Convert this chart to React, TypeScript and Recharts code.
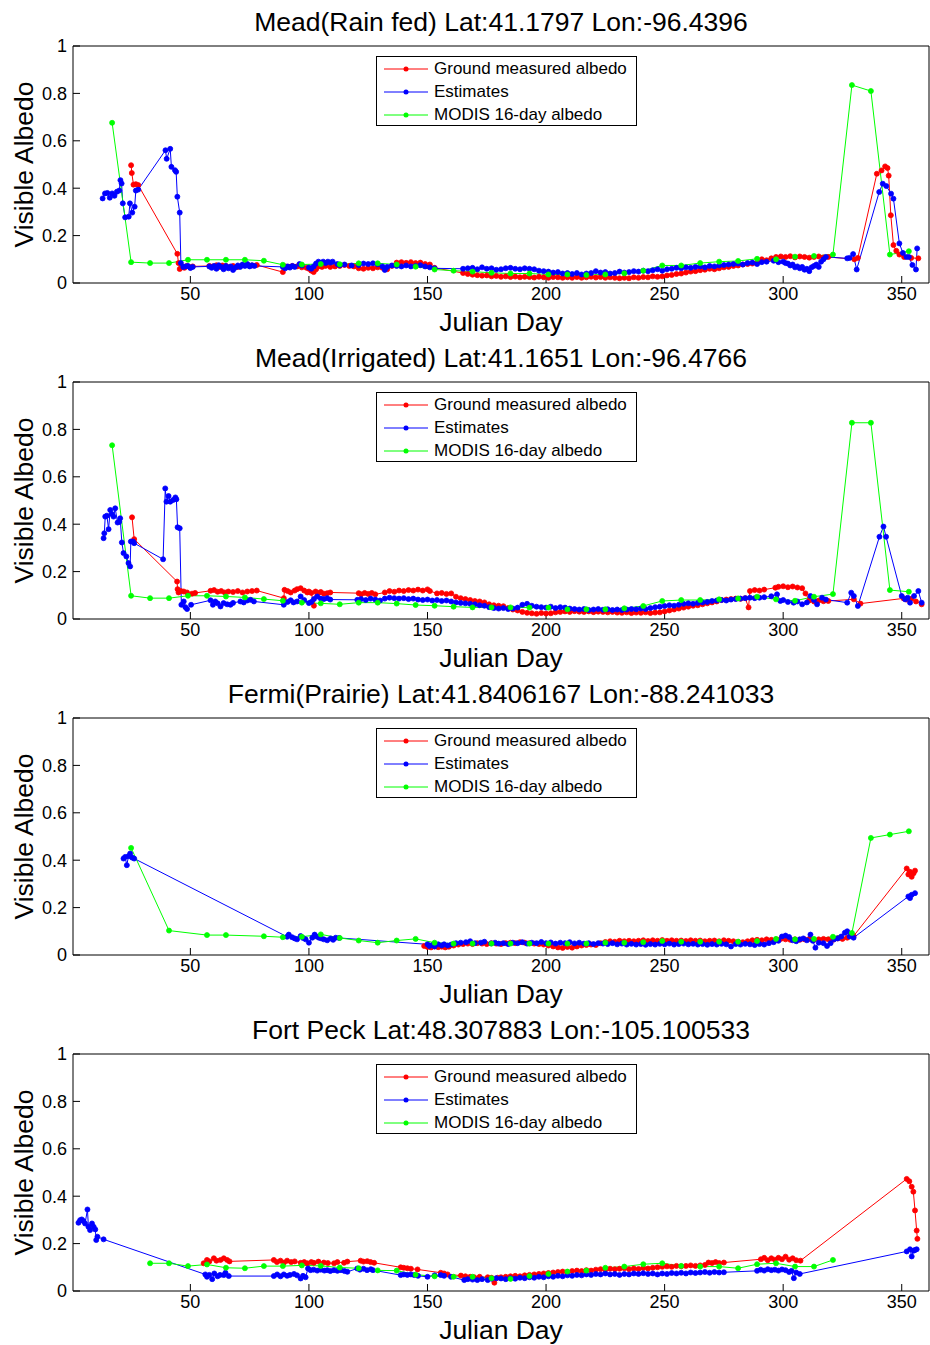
import React from 'react';
import { LineChart, Line, XAxis, YAxis, Legend } from 'recharts';

type Pt = [number, number];

const FONT = '"Liberation Sans", Arial, Helvetica, sans-serif';
const RED = '#ff0000';
const BLUE = '#0000ff';
const GREEN = '#00ff00';

const TITLES = [
  'Mead(Rain fed) Lat:41.1797 Lon:-96.4396',
  'Mead(Irrigated) Lat:41.1651 Lon:-96.4766',
  'Fermi(Prairie) Lat:41.8406167 Lon:-88.241033',
  'Fort Peck Lat:48.307883 Lon:-105.100533',
];
const X_TICKS = [50, 100, 150, 200, 250, 300, 350];
const Y_TICKS = [0, 0.2, 0.4, 0.6, 0.8, 1];
const X_LABEL = 'Julian Day';
const Y_LABEL = 'Visible Albedo';
const LEGEND_LABELS = ['Ground measured albedo', 'Estimates', 'MODIS 16-day albedo'];

// ---------------- Panel 1: Mead (Rain fed) ----------------
const p1Ground: Pt[] = [[25,0.497],[25.3,0.464],[26,0.415],[27,0.417],[28,0.413],[44.5,0.123],[45,0.084],[45.5,0.059],[46.5,0.07],[47.5,0.064],[48.5,0.072],[50,0.066],[51,0.07],[58,0.072],[59.5,0.07],[61,0.075],[62,0.068],[63.5,0.074],[65,0.072],[66.5,0.066],[68,0.072],[70,0.068],[72,0.075],[74,0.078],[76,0.074],[78,0.076],[89,0.046],[90,0.07],[91.5,0.068],[93,0.072],[95,0.07],[97,0.066],[99,0.064],[100,0.06],[101,0.052],[102,0.046],[103,0.058],[104,0.07],[105.5,0.068],[107,0.072],[109,0.068],[111,0.07],[113,0.072],[115,0.076],[117,0.072],[119,0.07],[121,0.062],[123,0.06],[125,0.064],[127,0.062],[129,0.066],[131,0.064],[133,0.058],[135,0.072],[137,0.086],[139,0.088],[141,0.085],[143,0.088],[145,0.084],[147,0.086],[149,0.08],[150,0.072],[151,0.078],[153,0.064],[165,0.042],[167,0.038],[169,0.035],[171,0.033],[173,0.031],[175,0.032],[177,0.028],[179,0.03],[181,0.026],[183,0.028],[185,0.025],[187,0.027],[189,0.024],[191,0.026],[193,0.025],[195,0.023],[197,0.026],[199,0.024],[201,0.022],[203,0.025],[205,0.024],[207,0.022],[209,0.024],[211,0.022],[213,0.025],[215,0.022],[217,0.024],[219,0.026],[221,0.023],[223,0.025],[225,0.022],[227,0.024],[229,0.022],[231,0.02],[233,0.022],[235,0.02],[237,0.024],[239,0.022],[241,0.025],[243,0.024],[245,0.028],[247,0.026],[249,0.028],[251,0.032],[253,0.034],[255,0.038],[257,0.04],[259,0.044],[261,0.048],[263,0.05],[265,0.054],[267,0.056],[269,0.06],[271,0.058],[273,0.062],[275,0.066],[277,0.068],[279,0.072],[281,0.074],[283,0.078],[285,0.08],[287,0.082],[289,0.086],[291,0.1],[293,0.096],[295,0.104],[297,0.11],[299,0.112],[301,0.11],[303,0.113],[305,0.108],[307,0.112],[309,0.11],[311,0.107],[313,0.11],[315,0.112],[317,0.108],[319,0.11],[330,0.1],[331.5,0.106],[339.5,0.461],[341.5,0.475],[343,0.492],[344,0.485],[344.5,0.453],[345.4,0.286],[346.5,0.16],[347.7,0.136],[349,0.12],[351,0.11],[354,0.106],[357,0.104]];

const p1Est: Pt[] = [[13,0.357],[14,0.378],[15,0.38],[16,0.36],[17,0.378],[18,0.368],[19,0.385],[20,0.39],[20.5,0.434],[21,0.42],[21.5,0.336],[22.5,0.277],[24,0.28],[24.5,0.336],[25.5,0.297],[26.5,0.322],[27,0.39],[28,0.394],[39.5,0.56],[40,0.524],[41.5,0.566],[42,0.49],[43.5,0.476],[44,0.469],[44.5,0.364],[45.5,0.297],[46,0.084],[47,0.067],[48,0.07],[49,0.072],[50,0.063],[51,0.068],[58,0.07],[59,0.064],[60,0.072],[61,0.06],[62,0.075],[63,0.068],[64,0.058],[65,0.072],[66,0.062],[67,0.07],[68,0.055],[69,0.065],[70,0.074],[71,0.068],[72,0.078],[73,0.072],[74,0.08],[75,0.07],[76,0.075],[77,0.072],[89,0.068],[90,0.062],[91,0.07],[92,0.065],[93,0.072],[94,0.068],[96,0.08],[97,0.074],[100,0.065],[101,0.06],[102,0.07],[103,0.082],[104,0.09],[105,0.085],[106,0.09],[107,0.084],[108,0.09],[109,0.086],[110,0.09],[112,0.08],[113,0.075],[115,0.078],[118,0.074],[121,0.076],[123,0.082],[125,0.08],[127,0.083],[129,0.079],[131,0.07],[132,0.055],[133,0.068],[135,0.074],[137,0.072],[139,0.07],[141,0.074],[143,0.07],[145,0.072],[147,0.075],[149,0.07],[151,0.066],[153,0.062],[165,0.06],[167,0.062],[169,0.064],[171,0.058],[173,0.066],[175,0.06],[177,0.062],[179,0.056],[181,0.058],[183,0.062],[185,0.064],[187,0.06],[189,0.058],[191,0.062],[193,0.06],[195,0.058],[197,0.052],[199,0.05],[201,0.048],[203,0.044],[205,0.046],[207,0.04],[209,0.042],[211,0.038],[213,0.042],[215,0.036],[217,0.04],[219,0.042],[221,0.05],[223,0.044],[225,0.046],[227,0.04],[229,0.042],[231,0.048],[233,0.044],[235,0.046],[237,0.05],[239,0.048],[241,0.052],[243,0.05],[245,0.054],[247,0.058],[249,0.052],[251,0.058],[253,0.06],[255,0.064],[257,0.062],[259,0.066],[261,0.064],[263,0.068],[265,0.07],[267,0.066],[269,0.072],[271,0.07],[273,0.074],[275,0.076],[277,0.078],[279,0.08],[281,0.082],[283,0.078],[285,0.084],[287,0.086],[289,0.08],[291,0.088],[293,0.09],[296,0.094],[298,0.088],[300,0.09],[301,0.084],[302,0.082],[303,0.074],[304,0.078],[305,0.066],[306,0.07],[307,0.062],[308,0.068],[309,0.056],[310,0.06],[311,0.05],[312,0.066],[313,0.072],[314,0.078],[315,0.068],[316,0.09],[317,0.1],[318,0.11],[327,0.104],[328,0.106],[329.5,0.122],[331,0.057],[340.5,0.384],[342,0.419],[343.5,0.409],[345.5,0.377],[346.5,0.356],[349,0.167],[350.5,0.127],[352,0.11],[353,0.11],[354.5,0.076],[356,0.057],[356.5,0.146]];

const p1Modis: Pt[] = [[17,0.676],[25,0.088],[33,0.084],[41,0.084],[49,0.098],[57,0.098],[65,0.098],[73,0.098],[81,0.094],[89,0.077],[97,0.078],[105,0.08],[113,0.079],[121,0.083],[129,0.083],[137,0.078],[145,0.069],[153,0.057],[161,0.052],[169,0.048],[177,0.043],[185,0.04],[193,0.04],[201,0.036],[209,0.036],[217,0.034],[225,0.036],[233,0.041],[241,0.052],[249,0.074],[257,0.074],[265,0.084],[273,0.09],[281,0.093],[289,0.102],[297,0.1],[305,0.111],[313,0.114],[321,0.12],[329,0.835],[337,0.81],[345,0.12],[353,0.134]];

// ---------------- Panel 2: Mead (Irrigated) ----------------
const p2Ground: Pt[] = [[25.4,0.429],[26.3,0.337],[44.4,0.158],[44.6,0.126],[45,0.112],[46,0.118],[47.2,0.116],[48.6,0.112],[50.7,0.107],[52,0.11],[58.5,0.119],[60,0.122],[61.5,0.115],[63,0.118],[64.5,0.112],[66,0.116],[68,0.114],[70,0.118],[72,0.112],[74,0.116],[76,0.118],[78,0.12],[89.4,0.088],[89.7,0.123],[91,0.118],[92.3,0.112],[94,0.12],[95,0.126],[96.5,0.13],[98,0.12],[99.3,0.112],[100,0.116],[101,0.11],[102.1,0.056],[102.8,0.116],[104,0.11],[105,0.114],[106.3,0.107],[107.7,0.109],[109,0.112],[121,0.109],[122,0.104],[123.5,0.11],[125,0.106],[126.5,0.11],[128,0.104],[132,0.112],[134,0.118],[136,0.115],[138,0.12],[140,0.118],[142,0.122],[144,0.12],[146,0.124],[148,0.12],[150,0.125],[151,0.118],[154,0.108],[156,0.11],[158,0.106],[160,0.108],[162,0.094],[164,0.088],[166,0.084],[168,0.08],[170,0.076],[172,0.074],[174,0.07],[176,0.062],[178,0.058],[180,0.056],[182,0.054],[184,0.046],[186,0.04],[188,0.036],[190,0.03],[192,0.026],[194,0.024],[196,0.022],[198,0.025],[200,0.023],[202,0.024],[204,0.028],[206,0.03],[208,0.032],[210,0.03],[212,0.033],[214,0.031],[216,0.03],[218,0.032],[220,0.029],[222,0.031],[224,0.03],[226,0.028],[228,0.03],[230,0.027],[232,0.026],[234,0.028],[236,0.025],[238,0.027],[240,0.026],[242,0.028],[244,0.025],[246,0.027],[248,0.028],[250,0.032],[252,0.036],[254,0.04],[256,0.044],[258,0.048],[260,0.052],[262,0.056],[264,0.058],[266,0.062],[268,0.066],[270,0.07],[272,0.074],[274,0.08],[276,0.082],[278,0.084],[280,0.086],[282,0.085],[284,0.088],[285.4,0.049],[286,0.118],[288,0.122],[290,0.12],[292,0.124],[296.7,0.132],[298,0.136],[300,0.138],[302,0.134],[304,0.137],[306,0.133],[308,0.13],[309.4,0.108],[311,0.078],[313,0.074],[315,0.078],[317,0.075],[319,0.076],[329.8,0.083],[332.6,0.065],[350.8,0.087],[352,0.082],[354,0.085],[356,0.074],[358.4,0.062]];

const p2Est: Pt[] = [[13.4,0.341],[13.7,0.362],[14.1,0.432],[14.8,0.436],[15.5,0.379],[16.2,0.46],[16.9,0.443],[17.6,0.432],[18.3,0.467],[19.3,0.407],[20,0.41],[20.4,0.425],[21.1,0.323],[21.8,0.278],[23,0.264],[23.9,0.236],[24.6,0.222],[24.9,0.327],[25.8,0.327],[26.3,0.32],[38.5,0.252],[39.4,0.551],[39.9,0.495],[40.8,0.519],[41.5,0.495],[42.7,0.502],[43.7,0.513],[44.1,0.505],[44.6,0.387],[45.5,0.383],[46.2,0.06],[47.2,0.074],[47.9,0.05],[48.6,0.042],[50.3,0.06],[58.5,0.079],[59.5,0.06],[60.5,0.074],[61.5,0.066],[62.7,0.053],[64,0.067],[65.5,0.062],[66.9,0.06],[68,0.068],[71.1,0.074],[72.5,0.07],[74,0.078],[75.4,0.081],[76.8,0.074],[89.4,0.06],[91,0.072],[92.3,0.079],[93.5,0.07],[95,0.074],[96.5,0.095],[98,0.08],[100,0.067],[101,0.072],[102.1,0.084],[103.5,0.095],[105,0.086],[106.3,0.084],[107.7,0.088],[109,0.082],[120.4,0.081],[122,0.084],[124,0.08],[126,0.086],[128,0.082],[130,0.078],[132,0.086],[134,0.09],[136,0.088],[138,0.086],[140,0.088],[142,0.084],[144,0.086],[146,0.082],[148,0.08],[150,0.082],[152,0.078],[154,0.08],[156,0.076],[158,0.078],[160,0.074],[162,0.07],[164,0.068],[166,0.066],[168,0.064],[170,0.062],[172,0.058],[174,0.056],[176,0.05],[178,0.046],[180,0.044],[182,0.046],[184,0.042],[186,0.044],[188,0.048],[190,0.06],[192,0.064],[194,0.056],[196,0.052],[198,0.05],[200,0.048],[202,0.052],[204,0.046],[206,0.05],[208,0.048],[210,0.044],[212,0.042],[214,0.04],[216,0.042],[218,0.038],[220,0.04],[222,0.042],[224,0.039],[226,0.041],[228,0.038],[230,0.04],[232,0.038],[234,0.04],[236,0.042],[238,0.041],[240,0.044],[242,0.042],[244,0.046],[246,0.05],[248,0.052],[250,0.055],[252,0.058],[254,0.056],[256,0.06],[258,0.064],[260,0.066],[262,0.064],[264,0.068],[266,0.07],[268,0.072],[270,0.076],[272,0.078],[274,0.08],[276,0.078],[278,0.082],[280,0.084],[282,0.086],[284,0.088],[286,0.09],[288,0.088],[290,0.09],[292,0.092],[295,0.096],[297.4,0.104],[298.8,0.076],[300,0.08],[302,0.072],[304.4,0.069],[306,0.074],[308,0.062],[310,0.07],[311.5,0.097],[313,0.08],[314.3,0.062],[316.4,0.09],[318,0.082],[327,0.069],[328.7,0.111],[329.8,0.097],[331.5,0.055],[340.6,0.347],[342.3,0.39],[343.4,0.347],[350,0.097],[351.4,0.083],[352.5,0.09],[353.5,0.069],[355.2,0.097],[357,0.118],[358.4,0.069]];

const p2Modis: Pt[] = [[17,0.733],[25,0.098],[33,0.088],[41,0.088],[49,0.098],[57,0.098],[65,0.095],[73,0.091],[81,0.084],[89,0.077],[97,0.069],[105,0.066],[113,0.062],[121,0.069],[129,0.069],[137,0.065],[145,0.059],[153,0.056],[161,0.052],[169,0.049],[177,0.049],[185,0.049],[193,0.048],[201,0.048],[209,0.041],[217,0.041],[225,0.041],[233,0.045],[241,0.055],[249,0.076],[257,0.08],[265,0.08],[273,0.083],[281,0.087],[289,0.094],[297,0.083],[305,0.077],[313,0.094],[321,0.105],[329,0.828],[337,0.828],[345,0.122],[353,0.115]];

// ---------------- Panel 3: Fermi (Prairie) ----------------
const p3Ground: Pt[] = [[148.6,0.038],[150,0.034],[151.5,0.032],[153,0.036],[154.5,0.033],[156,0.035],[157.5,0.032],[159,0.035],[161,0.04],[163,0.044],[165,0.046],[167,0.048],[169,0.046],[171,0.05],[173,0.048],[175,0.046],[177,0.05],[179,0.048],[181,0.046],[183,0.05],[185,0.052],[187,0.05],[189,0.054],[191,0.052],[193,0.05],[195,0.048],[197,0.046],[199,0.044],[201,0.04],[203,0.036],[205,0.032],[207,0.03],[209,0.034],[211,0.031],[213,0.036],[215,0.04],[217,0.042],[219,0.044],[221,0.042],[223,0.05],[225,0.055],[227,0.058],[229,0.056],[231,0.06],[233,0.058],[235,0.06],[237,0.058],[239,0.06],[241,0.062],[243,0.059],[245,0.062],[247,0.06],[249,0.063],[251,0.06],[253,0.062],[255,0.06],[257,0.061],[259,0.059],[261,0.062],[263,0.06],[265,0.061],[267,0.058],[269,0.06],[271,0.061],[273,0.058],[275,0.062],[277,0.06],[279,0.058],[281,0.056],[283,0.054],[285,0.058],[287,0.062],[289,0.064],[291,0.062],[293,0.066],[295,0.064],[297,0.066],[299,0.068],[301,0.066],[303,0.064],[305,0.066],[307,0.064],[309,0.066],[311,0.068],[313,0.064],[315,0.066],[317,0.068],[319,0.066],[321,0.064],[323,0.07],[325,0.068],[327,0.073],[329.7,0.08],[352.1,0.365],[352.8,0.34],[353.5,0.351],[354.2,0.33],[355,0.345],[355.6,0.356]];

const p3Est: Pt[] = [[21.8,0.407],[22.5,0.414],[23.2,0.379],[23.9,0.417],[24.6,0.428],[25.4,0.411],[26.3,0.407],[90.8,0.077],[91.5,0.086],[92.9,0.075],[94,0.07],[95,0.066],[96.5,0.08],[97.5,0.072],[98.6,0.066],[100,0.052],[101.4,0.073],[102.4,0.086],[103.2,0.078],[104.2,0.073],[105.2,0.07],[106.3,0.066],[107.7,0.062],[109.2,0.07],[110.2,0.064],[111.3,0.073],[112.7,0.072],[150,0.045],[150.8,0.038],[152,0.042],[153,0.036],[154.5,0.045],[156,0.04],[157,0.045],[158.5,0.04],[160,0.044],[162,0.05],[164,0.052],[166.2,0.054],[168,0.058],[170,0.05],[172.5,0.052],[174,0.056],[176.8,0.049],[178.5,0.052],[180,0.048],[182,0.05],[184,0.046],[186,0.052],[188,0.05],[190,0.054],[192,0.048],[194,0.052],[196,0.05],[198,0.055],[200,0.05],[202,0.053],[204,0.048],[206,0.052],[208,0.05],[210,0.054],[212,0.049],[214,0.052],[216,0.048],[218,0.05],[220,0.046],[222,0.05],[224,0.048],[226,0.046],[228,0.05],[230,0.045],[232,0.048],[234,0.044],[236,0.047],[238,0.044],[240,0.046],[242,0.043],[244,0.046],[246,0.044],[248,0.047],[250,0.045],[252,0.048],[254,0.044],[256,0.046],[258,0.048],[260,0.045],[262,0.047],[264,0.044],[266,0.046],[268,0.043],[270,0.046],[272,0.044],[274,0.047],[276,0.045],[278,0.036],[280,0.046],[282,0.044],[284,0.047],[286,0.045],[288,0.042],[290,0.046],[292,0.044],[294,0.05],[296,0.054],[298,0.06],[299.5,0.078],[301,0.082],[302.5,0.076],[304,0.062],[305.5,0.058],[307,0.066],[308.5,0.07],[310,0.062],[311.5,0.086],[312.5,0.06],[313.6,0.031],[315,0.052],[317,0.05],[318.5,0.038],[320,0.05],[321.5,0.066],[323,0.07],[324.5,0.078],[326,0.094],[327,0.1],[328,0.078],[329.7,0.073],[352.8,0.247],[353.5,0.24],[354.2,0.254],[355.6,0.261]];

const p3Modis: Pt[] = [[25,0.452],[41,0.103],[57,0.084],[65,0.084],[81,0.079],[89,0.075],[97,0.077],[105,0.087],[113,0.072],[121,0.061],[129,0.052],[137,0.061],[145,0.068],[153,0.052],[161,0.048],[169,0.048],[177,0.048],[185,0.048],[193,0.048],[201,0.048],[209,0.048],[217,0.048],[225,0.052],[233,0.052],[241,0.054],[249,0.059],[257,0.056],[265,0.056],[273,0.056],[281,0.056],[289,0.059],[297,0.068],[305,0.066],[313,0.068],[321,0.077],[329,0.093],[337,0.494],[345,0.508],[353,0.522]];

// ---------------- Panel 4: Fort Peck ----------------
const p4Ground: Pt[] = [[55.6,0.117],[57,0.131],[58,0.125],[59.9,0.138],[61,0.128],[62.7,0.131],[64.1,0.138],[65.5,0.131],[66.5,0.125],[85.2,0.131],[86.5,0.122],[88,0.128],[89.5,0.12],[90.8,0.128],[92.5,0.122],[94,0.125],[96.5,0.119],[98,0.122],[99.3,0.117],[101,0.122],[102.1,0.119],[104,0.124],[106.3,0.12],[108,0.118],[110.6,0.117],[112,0.122],[114.8,0.119],[116.2,0.124],[121.8,0.128],[123,0.124],[124.6,0.126],[126,0.122],[127.5,0.119],[138.7,0.1],[140,0.098],[141.5,0.096],[143,0.094],[145.8,0.091],[155.6,0.077],[157,0.074],[158.5,0.07],[164.1,0.065],[166,0.062],[168,0.06],[169.7,0.058],[172,0.06],[175.4,0.058],[177,0.056],[178.2,0.035],[179.5,0.056],[181,0.058],[183,0.06],[185,0.062],[187,0.064],[189,0.062],[191,0.066],[193,0.068],[195,0.07],[197,0.072],[199,0.074],[201,0.076],[203,0.078],[205,0.08],[207,0.082],[209,0.08],[211,0.084],[213,0.086],[215,0.084],[217,0.088],[219,0.086],[221,0.09],[223,0.092],[225,0.09],[227,0.094],[229,0.092],[231,0.094],[233,0.096],[235,0.092],[237,0.095],[239,0.093],[241,0.097],[243,0.095],[245,0.098],[247,0.1],[249,0.102],[251,0.104],[253,0.102],[255,0.106],[257,0.104],[259,0.106],[261,0.108],[263,0.106],[265,0.108],[267,0.11],[268.5,0.12],[270,0.118],[271.5,0.122],[273,0.118],[275,0.12],[290.6,0.134],[292,0.14],[293.5,0.13],[295,0.138],[296.5,0.132],[298,0.14],[299.5,0.134],[301,0.145],[302.5,0.132],[304,0.138],[305.5,0.13],[307.3,0.128],[352.1,0.473],[353.2,0.463],[354.2,0.44],[354.9,0.419],[355.6,0.34],[356.3,0.255],[356.6,0.22]];

const p4Est: Pt[] = [[2.8,0.288],[3.5,0.299],[4.2,0.302],[4.9,0.295],[5.6,0.285],[6.6,0.344],[7,0.271],[7.7,0.257],[8.5,0.285],[9.2,0.271],[9.9,0.26],[10.3,0.215],[10.8,0.229],[13.4,0.218],[56.3,0.07],[57,0.06],[58,0.068],[59.2,0.05],[60.1,0.074],[61.5,0.062],[62.5,0.068],[64.1,0.067],[64.8,0.077],[66.2,0.063],[85.2,0.063],[86.6,0.07],[88,0.062],[89.4,0.07],[90.8,0.064],[92,0.068],[93.7,0.072],[95,0.066],[96.5,0.053],[97.5,0.064],[98.6,0.058],[99.6,0.095],[100.7,0.088],[102,0.09],[103.5,0.086],[105,0.09],[106.5,0.086],[107.7,0.088],[109,0.084],[110.5,0.088],[112,0.085],[113.5,0.088],[115,0.084],[116.2,0.081],[120.4,0.095],[121.5,0.09],[123,0.094],[124.5,0.088],[126.1,0.092],[127,0.088],[138.7,0.067],[140,0.07],[141.5,0.068],[143,0.07],[144.4,0.067],[146,0.064],[150,0.06],[153,0.066],[155.6,0.067],[157,0.064],[159.9,0.06],[165.5,0.046],[167,0.05],[169,0.048],[171,0.046],[173,0.05],[175.4,0.046],[177,0.052],[179,0.054],[181,0.053],[183,0.05],[185,0.054],[187,0.052],[189,0.056],[191,0.054],[193,0.058],[195,0.056],[197,0.06],[199,0.058],[201,0.062],[203,0.06],[205,0.064],[207,0.062],[209,0.066],[211,0.064],[213,0.068],[215,0.066],[217,0.07],[219,0.068],[221,0.072],[223,0.07],[225,0.074],[227,0.07],[229,0.072],[231,0.068],[233,0.072],[235,0.07],[237,0.074],[239,0.072],[241,0.075],[243,0.072],[245,0.074],[247,0.07],[249,0.074],[251,0.072],[253,0.076],[255,0.074],[257,0.077],[259,0.074],[261,0.078],[263,0.076],[265,0.078],[267,0.08],[269,0.077],[271,0.08],[273,0.078],[275,0.079],[289,0.085],[290.5,0.09],[292,0.086],[293.5,0.092],[295,0.088],[296.5,0.09],[298,0.086],[299.5,0.091],[301,0.088],[302.5,0.08],[303.5,0.085],[304.5,0.054],[305.5,0.078],[307,0.072],[352.1,0.167],[353.5,0.176],[354.2,0.146],[355,0.17],[355.6,0.173],[356.3,0.176]];

const p4Modis: Pt[] = [[33,0.117],[41,0.117],[49,0.105],[57,0.112],[65,0.098],[73,0.096],[81,0.105],[89,0.105],[97,0.108],[105,0.106],[113,0.099],[121,0.096],[129,0.087],[137,0.086],[145,0.069],[153,0.062],[161,0.06],[169,0.06],[177,0.054],[185,0.051],[193,0.063],[201,0.072],[209,0.082],[217,0.086],[225,0.098],[233,0.103],[241,0.113],[249,0.117],[257,0.106],[265,0.103],[273,0.103],[281,0.096],[289,0.113],[297,0.117],[305,0.103],[313,0.103],[321,0.131]];

const PANELS = [
  { title: TITLES[0], ground: p1Ground, est: p1Est, modis: p1Modis },
  { title: TITLES[1], ground: p2Ground, est: p2Est, modis: p2Modis },
  { title: TITLES[2], ground: p3Ground, est: p3Est, modis: p3Modis },
  { title: TITLES[3], ground: p4Ground, est: p4Est, modis: p4Modis },
];

const SERIES_COLORS = [RED, BLUE, GREEN];

const toRows = (a: Pt[]) => a.map(([d, v]) => ({ d, v }));

const X_DOMAIN: [number, number] = [0.5, 361.5];
const PANEL_STEP = 336;
const CHART_H = 348;

const DEFAULT_VB = { x: 73, y: 46, width: 856, height: 237 };

const TitleText = (props: any) => {
  const vb = props.viewBox || DEFAULT_VB;
  return (
    <text x={vb.x + vb.width / 2} y={vb.y - 14} textAnchor="middle" fontFamily={FONT} fontSize={26.5} fill="#000">
      {props.text}
    </text>
  );
};

const XLabelText = (props: any) => {
  const vb = props.viewBox || DEFAULT_VB;
  return (
    <text x={vb.x + vb.width / 2} y={vb.y + vb.height + 47} textAnchor="middle" fontFamily={FONT} fontSize={26.5} fill="#000">
      {props.text}
    </text>
  );
};

const YLabelText = (props: any) => {
  const vb = props.viewBox || DEFAULT_VB;
  const cx = vb.x - 39;
  const cy = vb.y + vb.height / 2;
  return (
    <text x={cx} y={cy} transform={`rotate(-90, ${cx}, ${cy})`} textAnchor="middle" fontFamily={FONT} fontSize={26.5} fill="#000">
      {props.text}
    </text>
  );
};

const LegendBox = () => (
  <div
    style={{
      width: 259,
      height: 68,
      border: '1px solid #000',
      background: '#fff',
      fontFamily: FONT,
      fontSize: 17,
      color: '#000',
      position: 'relative',
    }}
  >
    {LEGEND_LABELS.map((label, i) => (
      <div
        key={label}
        style={{ position: 'absolute', left: 0, top: 1 + i * 23, height: 22, display: 'flex', alignItems: 'center' }}
      >
        <svg width={57} height={22} style={{ display: 'block' }}>
          <line x1={7} y1={11} x2={51} y2={11} stroke={SERIES_COLORS[i]} strokeWidth={1} />
          <circle cx={29} cy={11} r={2.5} fill={SERIES_COLORS[i]} />
        </svg>
        <span style={{ lineHeight: '22px', whiteSpace: 'nowrap' }}>{label}</span>
      </div>
    ))}
  </div>
);

const seriesLine = (key: string, rows: { d: number; v: number }[], color: string) => (
  <Line
    key={key}
    data={rows}
    dataKey="v"
    type="linear"
    stroke={color}
    strokeWidth={1}
    dot={{ r: 2.5, fill: color, stroke: color, strokeWidth: 0.8 }}
    activeDot={false}
    isAnimationActive={false}
    legendType="none"
  />
);

const tickStyle = { fill: '#000', fontSize: 18, fontFamily: FONT };

function Panel({ title, ground, est, modis }: { title: string; ground: Pt[]; est: Pt[]; modis: Pt[] }) {
  return (
    <LineChart width={930} height={CHART_H} margin={{ top: 45, right: 0, bottom: CHART_H - 284, left: 72 }}>
      <XAxis
        xAxisId={0}
        dataKey="d"
        type="number"
        domain={X_DOMAIN}
        allowDataOverflow
        ticks={X_TICKS}
        interval={0}
        tickSize={-7}
        tickMargin={11}
        height={1}
        stroke="#000"
        tick={tickStyle}
        label={<XLabelText text={X_LABEL} />}
      />
      <XAxis
        xAxisId="top"
        orientation="top"
        dataKey="d"
        type="number"
        domain={X_DOMAIN}
        allowDataOverflow
        ticks={X_TICKS}
        interval={0}
        tickSize={-7}
        height={1}
        stroke="#000"
        tick={false}
        label={<TitleText text={title} />}
      />
      <YAxis
        yAxisId={0}
        type="number"
        domain={[0, 1]}
        ticks={Y_TICKS}
        interval={0}
        tickSize={-7}
        tickMargin={13}
        width={1}
        stroke="#000"
        tick={tickStyle}
        label={<YLabelText text={Y_LABEL} />}
      />
      <YAxis
        yAxisId="right"
        orientation="right"
        type="number"
        domain={[0, 1]}
        ticks={Y_TICKS}
        interval={0}
        tickSize={-7}
        width={1}
        stroke="#000"
        tick={false}
      />
      <Legend
        layout="vertical"
        align="center"
        verticalAlign="middle"
        content={() => <LegendBox />}
        wrapperStyle={{ left: 376, top: 56, width: 261, height: 70, right: 'auto', bottom: 'auto' }}
      />
      {seriesLine('ground', toRows(ground), RED)}
      {seriesLine('est', toRows(est), BLUE)}
      {seriesLine('modis', toRows(modis), GREEN)}
    </LineChart>
  );
}

export default function App() {
  return (
    <div style={{ position: 'absolute', left: 0, top: 0, width: 930, height: 1345, background: '#fff', overflow: 'hidden' }}>
      {PANELS.map((p, i) => (
        <div key={p.title} style={{ position: 'absolute', left: 0, top: i * PANEL_STEP, width: 930, height: CHART_H }}>
          <Panel title={p.title} ground={p.ground} est={p.est} modis={p.modis} />
        </div>
      ))}
    </div>
  );
}
